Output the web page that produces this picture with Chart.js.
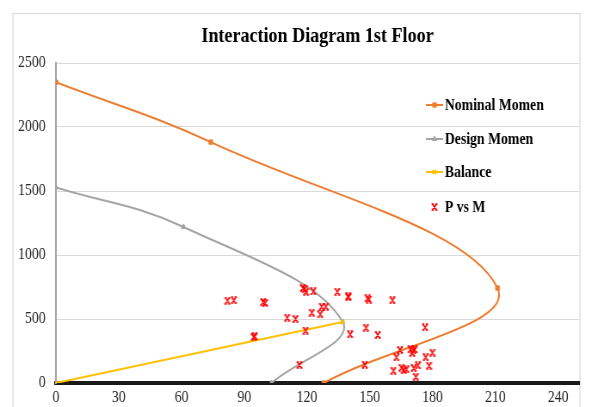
<!DOCTYPE html>
<html>
<head>
<meta charset="utf-8">
<script src="https://cdn.jsdelivr.net/npm/chart.js@4/dist/chart.umd.min.js"></script>
<style>
  html, body { margin: 0; padding: 0; background: #fff; overflow: hidden; width: 604px; height: 407px; }
  #wrap { position: relative; width: 604px; height: 440px; }
  canvas { display: block; }
</style>
</head>
<body>
<div id="wrap"><canvas id="chart" width="702" height="440" style="width:604px;height:440px"></canvas></div>
<script>
// Interaction curve data: moment M (x) and axial load P (y)
const nominalM = [0, 74, 211, 128];
const nominalP = [2350, 1882, 742, 0];

const designM = [0, 61, 137, 103];
const designP = [1528, 1219, 477, 0];

const balanceM = [0, 137];
const balanceP = [0, 477];

// Column load combinations (M, P)
const loadM = [82, 85, 99, 100, 95, 94.5, 118, 119, 119.5, 123, 127, 129, 122.3, 126.3, 110.5, 114.5,
               119.3, 116.4, 134.5, 139.6, 139.8, 149, 149.5, 160.8, 140.6, 148.2, 153.8, 176.4, 147.6,
               164.4, 169.5, 170.8, 170.3, 171.5, 162.7, 176.7, 179.9, 161.3, 165.1, 166.3, 167.5, 171,
               173, 178.3, 172];
const loadP = [643, 646, 632, 626, 365, 358, 742, 735, 712, 716, 597, 597, 549, 537, 510, 500,
               410, 141, 713, 676, 670, 662, 652, 646, 380, 432, 375, 435, 143,
               258, 263, 255, 235, 262, 201, 201, 237, 96, 120, 102, 107, 117,
               138, 135, 48];

const xTicksStep = 30;
const yTicksStep = 500;
const xMax = 250;
const yMax = 2500;

const toXY = (xs, ys) => xs.map((x, i) => ({ x: x, y: ys[i] }));

// Small red "x" glyph marker for the load points
function makeLoadMarker() {
  const c = document.createElement('canvas');
  c.width = 8; c.height = 8;
  const g = c.getContext('2d');
  g.strokeStyle = '#ff0000';
  g.lineWidth = 1.6;
  g.beginPath();
  g.moveTo(2, 1.4); g.lineTo(6, 6.6);
  g.moveTo(6, 1.4); g.lineTo(2, 6.6);
  g.moveTo(0.6, 1.1); g.lineTo(3.2, 1.1);
  g.moveTo(4.8, 1.1); g.lineTo(7.4, 1.1);
  g.moveTo(0.6, 6.9); g.lineTo(3.2, 6.9);
  g.moveTo(4.8, 6.9); g.lineTo(7.4, 6.9);
  g.stroke();
  return c;
}
const loadMarker = makeLoadMarker();

const ORANGE = '#ED7D31';
const GRAY = '#A5A5A5';
const GOLD = '#FFC000';
const SERIF = '"Liberation Serif", "Times New Roman", serif';

// White background and light outer frame
const framePlugin = {
  id: 'frame',
  beforeDraw(chart) {
    const ctx = chart.ctx;
    ctx.save();
    ctx.fillStyle = '#fff';
    ctx.fillRect(0, 0, chart.width, chart.height);
    ctx.strokeStyle = '#d9d9d9';
    ctx.lineWidth = 1.2;
    ctx.strokeRect(15, 13.5, 659, 500);
    ctx.restore();
  }
};

// Legend drawn inside the plot area
const innerLegend = {
  id: 'innerLegend',
  afterDraw(chart) {
    const ctx = chart.ctx;
    const rows = [105, 139, 172, 207];
    ctx.save();
    ctx.font = 'bold 16px ' + SERIF;
    ctx.textBaseline = 'middle';
    ctx.textAlign = 'left';
    chart.data.datasets.forEach((ds, i) => {
      const y = rows[i];
      const x0 = 495, x1 = 515, xm = 505;
      ctx.strokeStyle = ds.borderColor;
      ctx.fillStyle = ds.pointBackgroundColor || ds.borderColor;
      if (ds.showLine) {
        ctx.lineWidth = 2;
        ctx.beginPath();
        ctx.moveTo(x0, y); ctx.lineTo(x1, y);
        ctx.stroke();
      }
      ctx.lineWidth = ds.pointBorderWidth || 1;
      Chart.helpers.drawPoint(ctx, {
        pointStyle: ds.pointStyle, radius: ds.pointRadius || 3,
        borderWidth: ds.pointBorderWidth || 1, rotation: 0
      }, xm, y);
      ctx.fillStyle = '#000';
      ctx.fillText(ds.label, 517, y + 1);
    });
    ctx.restore();
  }
};

new Chart(document.getElementById('chart'), {
  type: 'scatter',
  data: {
    datasets: [
      {
        label: 'Nominal Momen', data: toXY(nominalM, nominalP), showLine: true, tension: 0.4,
        borderColor: ORANGE, borderWidth: 2, pointStyle: 'rect', pointRadius: 3,
        pointBackgroundColor: ORANGE, pointBorderColor: ORANGE, pointBorderWidth: 1, order: 3
      },
      {
        label: 'Design Momen', data: toXY(designM, designP), showLine: true, tension: 0.4,
        borderColor: GRAY, borderWidth: 2, pointStyle: 'triangle', pointRadius: 3,
        pointBackgroundColor: GRAY, pointBorderColor: GRAY, pointBorderWidth: 1, order: 2
      },
      {
        label: 'Balance', data: toXY(balanceM, balanceP), showLine: true, tension: 0,
        borderColor: GOLD, borderWidth: 2, pointStyle: 'crossRot', pointRadius: 3,
        pointBackgroundColor: GOLD, pointBorderColor: GOLD, pointBorderWidth: 1.5, order: 1
      },
      {
        label: 'P vs M', data: toXY(loadM, loadP), showLine: false,
        borderColor: '#ff0000', pointStyle: loadMarker, pointRadius: 4,
        pointBackgroundColor: '#ff0000', order: 0
      }
    ]
  },
  options: {
    responsive: false,
    devicePixelRatio: 1,
    animation: false,
    events: [],
    layout: { padding: { left: 0, right: 29, top: 0, bottom: 0 } },
    plugins: {
      legend: { display: false },
      tooltip: { enabled: false },
      title: {
        display: true,
        text: 'Interaction Diagram 1st Floor',
        fullSize: false,
        color: '#000',
        font: { family: SERIF, size: 21, weight: 'bold', lineHeight: 1.2 },
        padding: { top: 24, bottom: 13.8 }
      }
    },
    scales: {
      x: {
        type: 'linear', min: 0, max: xMax,
        afterFit(s) { s.height = 57; },
        border: { display: true, color: '#1a1a1a', width: 4 },
        grid: { display: false, drawTicks: false },
        ticks: {
          stepSize: xTicksStep, includeBounds: false, padding: 5,
          color: '#262626', font: { family: SERIF, size: 16 }, maxRotation: 0,
          callback: (v) => String(v)
        }
      },
      y: {
        type: 'linear', min: 0, max: yMax,
        afterFit(s) { s.width = 65; },
        border: { display: true, color: '#a6a6a6', width: 2 },
        grid: { color: '#d9d9d9', lineWidth: 1, drawTicks: false },
        ticks: {
          stepSize: yTicksStep, padding: 12,
          color: '#262626', font: { family: SERIF, size: 16 },
          callback: (v) => String(v)
        }
      }
    }
  },
  plugins: [framePlugin, innerLegend]
});
</script>
</body>
</html>
